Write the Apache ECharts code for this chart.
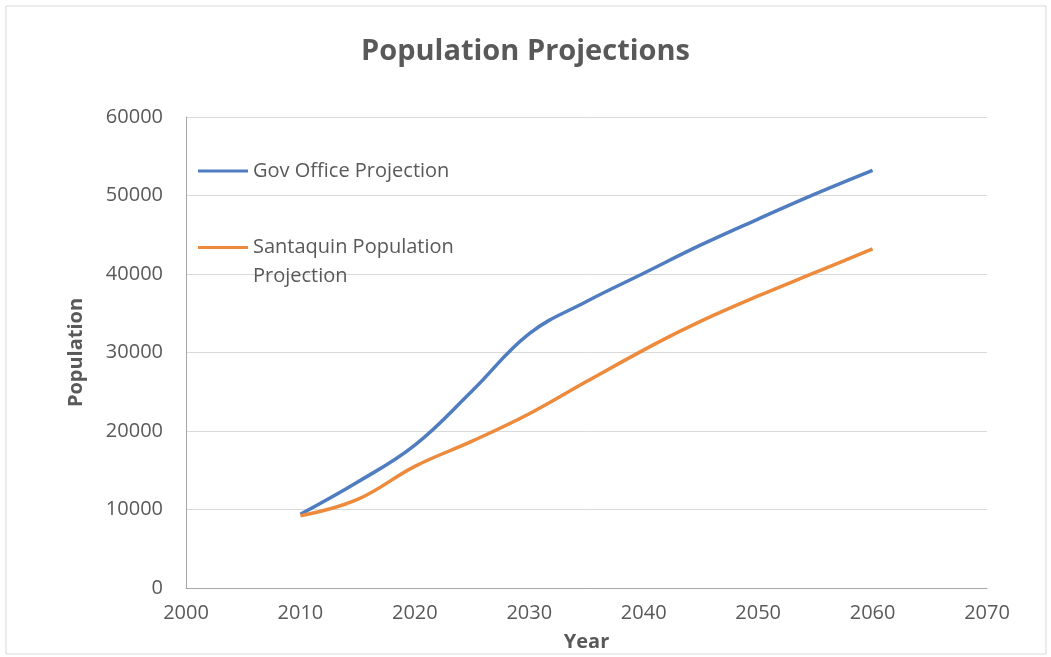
<!DOCTYPE html>
<html>
<head>
<meta charset="utf-8">
<title>Population Projections</title>
<script src="https://cdn.jsdelivr.net/npm/echarts@6/dist/echarts.min.js"></script>
<style>
  html, body { margin: 0; padding: 0; background: #fff; }
  #chart { width: 1051px; height: 657px; }
</style>
</head>
<body>
<div id="chart"></div>
<script>
// 数据
const govYears = [2010, 2015, 2020, 2025, 2030, 2035, 2040, 2045, 2050, 2055, 2060]
const govValues = [9400, 13500, 18200, 25100, 32400, 36500, 40100, 43700, 47000, 50200, 53200]
const santaquinYears = [2010, 2015, 2020, 2025, 2030, 2035, 2041, 2045, 2050, 2055, 2060]
const santaquinValues = [9200, 11300, 15500, 18700, 22200, 26300, 31100, 34000, 37200, 40200, 43200]
const xTicks = [2000, 2010, 2020, 2030, 2040, 2050, 2060, 2070]
const yTicks = [0, 10000, 20000, 30000, 40000, 50000, 60000]

const font = "'Open Sans', 'Noto Sans', sans-serif"
const textColor = '#595959'

function pairs (xs, ys) {
  return xs.map((x, i) => [x, ys[i]])
}

// 图例线条：第二项文字两行，线条对齐第一行
const lineIcon = 'path://M0,0h50v3h-50z'
const tallLineIcon = 'path://M0,0h0.1v0.1h-0.1z M0,13h50v3h-50z M0,57.9h0.1v0.1h-0.1z'

const myChart = echarts.init(document.getElementById('chart'))
myChart.setOption({
  animation: false,
  textStyle: { fontFamily: font },
  title: {
    text: 'Population Projections',
    left: 'center',
    top: 32,
    textStyle: { fontSize: 29, fontWeight: 'bold', color: textColor, fontFamily: font }
  },
  // 外框
  graphic: [{
    type: 'rect',
    shape: { x: 6, y: 6, width: 1040, height: 648 },
    style: { fill: 'none', stroke: '#d9d9d9', lineWidth: 1 },
    silent: true
  }],
  legend: [
    {
      data: ['Gov Office Projection'],
      left: 198,
      top: 161,
      padding: 0,
      icon: lineIcon,
      itemWidth: 50,
      itemHeight: 3,
      textStyle: { fontSize: 20, color: textColor, fontFamily: font }
    },
    {
      data: ['Santaquin Population Projection'],
      left: 198,
      top: 233,
      padding: 0,
      icon: tallLineIcon,
      itemWidth: 50,
      itemHeight: 58,
      formatter: () => 'Santaquin Population\nProjection',
      textStyle: { fontSize: 20, lineHeight: 29, color: textColor, fontFamily: font }
    }
  ],
  grid: { left: 186, right: 64, top: 117, bottom: 69, containLabel: false },
  xAxis: {
    type: 'value',
    min: xTicks[0],
    max: xTicks[xTicks.length - 1],
    interval: 10,
    name: 'Year',
    nameLocation: 'middle',
    nameGap: 44,
    nameTextStyle: { fontSize: 20, fontWeight: 'bold', color: textColor, fontFamily: font },
    axisLine: { show: true, lineStyle: { color: '#a6a6a6', width: 1 } },
    axisTick: { show: false },
    axisLabel: { margin: 15, fontSize: 20, color: textColor, fontFamily: font, formatter: v => String(v) },
    splitLine: { show: false }
  },
  yAxis: {
    type: 'value',
    min: yTicks[0],
    max: yTicks[yTicks.length - 1],
    interval: 10000,
    name: 'Population',
    nameLocation: 'middle',
    nameGap: 100,
    nameTextStyle: { fontSize: 20, fontWeight: 'bold', color: textColor, fontFamily: font },
    axisLine: { show: true, lineStyle: { color: '#a6a6a6', width: 1 } },
    axisTick: { show: false },
    axisLabel: { margin: 23, fontSize: 20, color: textColor, fontFamily: font, formatter: v => String(v) },
    splitLine: { show: true, lineStyle: { color: '#d9d9d9', width: 1 } }
  },
  series: [
    {
      name: 'Gov Office Projection',
      type: 'line',
      smooth: 0.4,
      symbol: 'none',
      data: pairs(govYears, govValues),
      lineStyle: { color: '#4F7DC0', width: 3.5 },
      itemStyle: { color: '#4F7DC0' }
    },
    {
      name: 'Santaquin Population Projection',
      type: 'line',
      smooth: 0.4,
      symbol: 'none',
      data: pairs(santaquinYears, santaquinValues),
      lineStyle: { color: '#ED8A3C', width: 3.5 },
      itemStyle: { color: '#ED8A3C' }
    }
  ]
})
</script>
</body>
</html>
